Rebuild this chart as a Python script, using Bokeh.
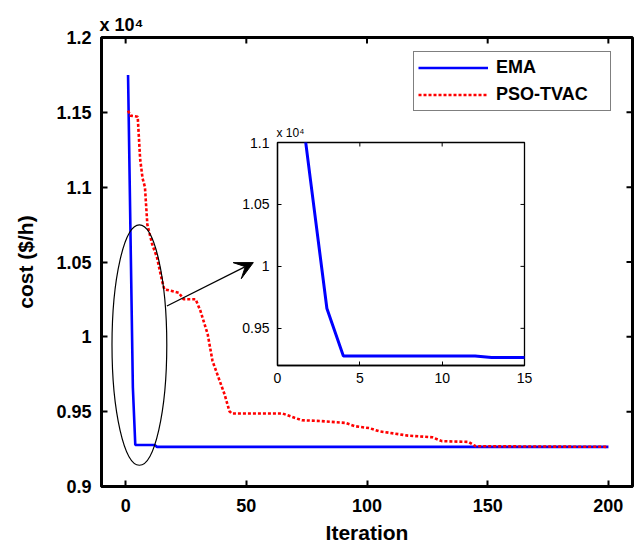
import numpy as np
from bokeh.plotting import figure
from bokeh.models import (FixedTicker, Legend, LegendItem, Title, Arrow,
                          VeeHead, Range1d, CustomJSTickFormatter)
from bokeh.layouts import column
from bokeh.embed import file_html
from bokeh.resources import INLINE

# ---------------- data (cost in $/h) ----------------
ema_iter = [1, 2, 3, 4, 12, 13, 200]
ema_cost = [11750, 10700, 9660, 9277, 9277, 9265, 9265]

pso_iter = [1, 2, 5, 6, 7, 8, 9, 11, 13, 15, 16, 22, 24, 29, 31, 34, 36, 38, 41, 43,
            44, 65, 70, 73, 81, 91, 95, 101, 105, 113, 117, 127, 131, 142, 145, 200]
pso_cost = [11511, 11478, 11471, 11190, 11060, 11000, 10750, 10619, 10530, 10380,
            10318, 10295, 10251, 10251, 10173, 10017, 9838, 9749, 9615, 9503,
            9488, 9488, 9459, 9443, 9437, 9425, 9403, 9390, 9369, 9350,
            9340, 9329, 9303, 9298, 9269, 9265]

scale = 1e4
x_ticks = [0, 50, 100, 150, 200]
y_ticks = [0.9, 0.95, 1.0, 1.05, 1.1, 1.15, 1.2]
inset_x_ticks = [0, 5, 10, 15]
inset_y_ticks = [0.95, 1.0, 1.05, 1.1]
multiplier_text = "x 10\u2074"

# annotation (ellipse + arrow) in data units of the main axes
ell_x, ell_y, ell_w, ell_h = 5.7, 0.9945, 22.7, 0.1606
arr_x0, arr_y0, arr_x1, arr_y1 = 17.1, 1.0206, 52.9, 1.0496

FONT = "Liberation Sans"
fmt = CustomJSTickFormatter(code="return String(Math.round(tick*100)/100)")

ema_y = np.array(ema_cost) / scale
pso_y = np.array(pso_cost) / scale


def style_axes(fig, lw, tick_in, tick_lw, font_size, bold):
    for ax in list(fig.xaxis) + list(fig.yaxis):
        ax.axis_line_width = lw
        ax.axis_line_color = "black"
        ax.major_tick_in = tick_in
        ax.major_tick_out = 0
        ax.major_tick_line_width = tick_lw
        ax.minor_tick_line_color = None
        ax.major_label_text_font = FONT
        ax.major_label_text_font_style = "bold" if bold else "normal"
        ax.major_label_text_font_size = font_size
        ax.major_label_text_color = "black"
        ax.axis_label_text_font = FONT
        ax.axis_label_text_font_style = "bold"
        ax.axis_label_text_font_size = "21px"
        ax.axis_label_text_color = "black"


def mirror_ticks(fig, xt, yt, size, lw):
    # tick marks on the top and right edges (half clipped by the frame)
    xr, yr = fig.x_range, fig.y_range
    fig.scatter(xt, [yr.end] * len(xt), marker="dash", angle=np.pi / 2, size=size,
                line_color="black", line_width=lw)
    fig.scatter([xr.end] * len(yt), yt, marker="dash", size=size,
                line_color="black", line_width=lw)


def no_align(fig):
    if "frame_align" in fig.properties():
        fig.frame_align = False


# ---------------- main figure ----------------
W, H = 635, 547
p = figure(width=W, height=H, x_range=Range1d(-10, 210), y_range=Range1d(0.9, 1.2),
           output_backend="svg", toolbar_location=None,
           min_border_left=101, min_border_right=3, min_border_top=37, min_border_bottom=61)
no_align(p)
p.grid.visible = False
p.outline_line_color = "black"
p.outline_line_width = 3
p.background_fill_color = "white"
p.border_fill_color = "white"

p.xaxis.ticker = FixedTicker(ticks=x_ticks)
p.yaxis.ticker = FixedTicker(ticks=y_ticks)
p.yaxis.formatter = fmt
p.xaxis.axis_label = "Iteration"
p.yaxis.axis_label = "cost ($/h)"
style_axes(p, 3, 6, 2, "18px", True)
p.xaxis.major_label_standoff = 12
p.yaxis.major_label_standoff = 10
p.xaxis.axis_label_standoff = 6
p.yaxis.axis_label_standoff = 16
mirror_ticks(p, x_ticks, y_ticks, 12, 2)

r_ema = p.line(ema_iter, ema_y, line_color="#0000ff", line_width=2.6)
r_pso = p.line(pso_iter, pso_y, line_color="#ff0000", line_width=2.6, line_dash="3 2")

p.ellipse(x=[ell_x], y=[ell_y], width=ell_w, height=ell_h, fill_color=None,
          line_color="black", line_width=1.2)
p.add_layout(Arrow(end=VeeHead(size=18, fill_color="black", line_color="black", line_width=1),
                   x_start=arr_x0, y_start=arr_y0, x_end=arr_x1, y_end=arr_y1,
                   line_color="black", line_width=1.3))

legend = Legend(items=[LegendItem(label="EMA", renderers=[r_ema]),
                       LegendItem(label="PSO-TVAC", renderers=[r_pso])],
                location=(312, 375), padding=4, spacing=4,
                glyph_width=70, glyph_height=23, label_height=23, label_width=110,
                label_standoff=8, label_text_font=FONT, label_text_font_style="bold",
                label_text_font_size="18px", label_text_color="black",
                border_line_color="black", border_line_width=1.6,
                background_fill_color="white", background_fill_alpha=1.0, margin=0)
p.add_layout(legend)

p.add_layout(Title(text=multiplier_text, align="left", offset=-2, standoff=5,
                   text_font=FONT, text_font_style="bold", text_font_size="18px",
                   text_color="black"), "above")

# ---------------- inset figure ----------------
IW, IH = 302, 278
pi = figure(width=IW, height=IH, x_range=Range1d(0, 15), y_range=Range1d(0.92, 1.1),
            output_backend="svg", toolbar_location=None,
            min_border_left=40, min_border_right=15, min_border_top=25, min_border_bottom=30)
no_align(pi)
pi.grid.visible = False
pi.outline_line_color = "black"
pi.outline_line_width = 1.3
pi.background_fill_color = "white"
pi.border_fill_color = None
pi.xaxis.ticker = FixedTicker(ticks=inset_x_ticks)
pi.yaxis.ticker = FixedTicker(ticks=inset_y_ticks)
pi.yaxis.formatter = fmt
style_axes(pi, 1.3, 4, 1, "14px", False)
pi.xaxis.major_label_standoff = 7
pi.yaxis.major_label_standoff = 8
mirror_ticks(pi, inset_x_ticks, inset_y_ticks, 8, 1)

pi.line(ema_iter, ema_y, line_color="#0000ff", line_width=3)

pi.add_layout(Title(text=multiplier_text, align="left", offset=-1, standoff=5,
                    text_font=FONT, text_font_style="normal", text_font_size="12px",
                    text_color="black"), "above")

pi.margin = (-430, 0, 0, 237)

layout = column(p, pi, spacing=0)
open("out.html", "w").write(file_html(layout, INLINE))
